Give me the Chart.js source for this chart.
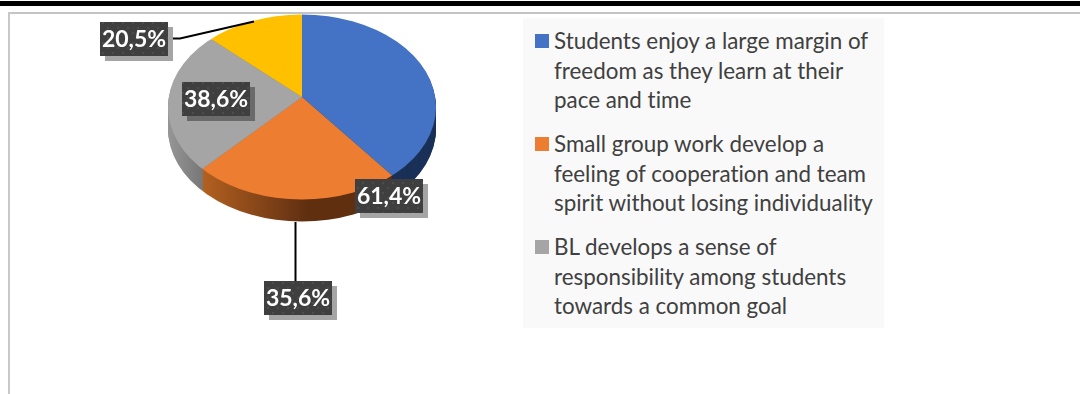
<!DOCTYPE html>
<html>
<head>
<meta charset="utf-8">
<script src="https://cdn.jsdelivr.net/npm/chart.js@4"></script>
<style>
  html, body { margin: 0; padding: 0; background: #fff; overflow: hidden; }
  #wrap { position: relative; width: 1080px; height: 394px; }
  #topBar { position: absolute; left: 0; top: 1px; width: 1080px; height: 5px; background: #000; }
  #frameTop { position: absolute; left: 8px; top: 12px; width: 1072px; height: 2px; background: #c4c4c4; }
  #frameLeft { position: absolute; left: 8px; top: 12px; width: 2px; height: 382px; background: #c8c8c8; }
  #myChart { position: absolute; left: 0; top: 0; }
  #legend {
    position: absolute; left: 523px; top: 18px; width: 361px; height: 310px;
    background: #f9f9f9; color: #404040; font: 22.4px Lato, sans-serif;
    font-variant-ligatures: none;
  }
  .item { position: absolute; left: 31px; line-height: 29.5px; white-space: nowrap; }
  .swatch { position: absolute; left: 12px; width: 14px; height: 14px; }
</style>
</head>
<body>
<div id="wrap">
  <div id="topBar"></div>
  <div id="frameTop"></div>
  <div id="frameLeft"></div>
  <canvas id="myChart" width="1080" height="394"></canvas>
  <div id="legend"></div>
</div>
<script>
// Slice order runs clockwise from 12 o'clock
const labels = ["Students", "Small group", "BL", ""];
const values = [61.4, 35.6, 38.6, 20.5];
const valueLabels = ["61,4%", "35,6%", "38,6%", "20,5%"];
const legendLines = [
  ["Students enjoy a large margin of", "freedom as they learn at their", "pace and time"],
  ["Small group work develop a", "feeling of cooperation and team", "spirit without losing individuality"],
  ["BL develops a sense of", "responsibility among students", "towards a common goal"]
];
const colors = ["#4472c4", "#ed7d31", "#a5a5a5", "#ffc000"];

// Pie geometry on the page
const cx = 302, vertexY = 97, rimY = 107, rx = 134, ry = 92.5, tilt = 0.69, depth = 22;
const pieRadius = 165;
const canvasH = 394;

// Top-left corner of each value box, same order as values
const labelBoxes = [[355, 179], [264, 281], [182, 82], [100, 22]];
const boxW = 68, boxH = 34;

function sideColor(ctx, i) {
  if (i == 0) return "#1b3158";
  let g = ctx.createLinearGradient(168, 0, 436, 0);
  if (i == 1) {
    g.addColorStop(0.13, "#b2601f");
    g.addColorStop(0.45, "#6f3814");
    g.addColorStop(0.52, "#5f2f10");
    g.addColorStop(1, "#5f3010");
  } else {
    g.addColorStop(0, "#969696");
    g.addColorStop(0.13, "#777777");
  }
  return g;
}

function ellipseClip(ctx, offset) {
  ctx.beginPath();
  ctx.ellipse(cx, rimY + offset, rx, ry, 0, 0, Math.PI * 2);
  ctx.clip();
}

function squash(ctx, chart, offset) {
  const midY = (chart.chartArea.top + chart.chartArea.bottom) / 2;
  ctx.translate(cx, vertexY + offset);
  ctx.scale(1, tilt);
  ctx.translate(-cx, -midY);
}

function dotPattern(ctx) {
  const c = document.createElement("canvas");
  c.width = 10; c.height = 10;
  const p = c.getContext("2d");
  p.fillStyle = "#3f3f3f";
  p.fillRect(0, 0, 10, 10);
  p.fillStyle = "#4c4c4c";
  p.fillRect(2, 2, 2, 2);
  p.fillRect(7, 7, 2, 2);
  return ctx.createPattern(c, "repeat");
}

// Flattens the pie, adds the side wall and clips it all to the rim ellipse
const tiltPlugin = {
  id: "tilt",
  beforeDatasetsDraw(chart) {
    const ctx = chart.ctx;
    const arcs = chart.getDatasetMeta(0).data;
    for (let d = depth; d > 0; d--) {
      ctx.save();
      ellipseClip(ctx, d);
      squash(ctx, chart, d);
      arcs.forEach((arc, i) => {
        const old = arc.options.backgroundColor;
        const oldBorder = arc.options.borderWidth;
        arc.options.backgroundColor = sideColor(ctx, i);
        arc.options.borderWidth = 0;
        arc.draw(ctx);
        arc.options.backgroundColor = old;
        arc.options.borderWidth = oldBorder;
      });
      ctx.restore();
    }
    ctx.save();
    ellipseClip(ctx, 0);
    squash(ctx, chart, 0);
  },
  afterDatasetsDraw(chart) {
    const ctx = chart.ctx;
    ctx.restore();

    // leader lines
    ctx.strokeStyle = "#000";
    ctx.lineWidth = 2;
    ctx.beginPath();
    ctx.moveTo(168, 38.5);
    ctx.lineTo(180, 38.5);
    ctx.lineTo(254, 21.5);
    ctx.moveTo(295.5, 222);
    ctx.lineTo(295.5, 281);
    ctx.stroke();

    // value boxes with their offset shadow
    const pattern = dotPattern(ctx);
    valueLabels.forEach((text, i) => {
      const x = labelBoxes[i][0], y = labelBoxes[i][1];
      ctx.fillStyle = i == 2 ? "#6a6a6a" : "#a5a5a5";
      ctx.fillRect(x + 5, y + 5, boxW, boxH);
      ctx.fillStyle = pattern;
      ctx.fillRect(x, y, boxW, boxH);
      ctx.fillStyle = "#fff";
      ctx.font = "bold 23px Lato, sans-serif";
      ctx.textAlign = "center";
      ctx.textBaseline = "middle";
      ctx.fillText(text, x + boxW / 2, y + boxH / 2 + 1);
    });
  }
};

const chartCtx = document.getElementById("myChart").getContext("2d");
new Chart(chartCtx, {
  type: "pie",
  data: {
    labels: labels,
    datasets: [{ data: values, backgroundColor: colors, borderWidth: 0 }]
  },
  options: {
    responsive: false,
    animation: false,
    layout: {
      padding: {
        left: cx - pieRadius,
        right: 1080 - cx - pieRadius,
        top: canvasH / 2 - pieRadius,
        bottom: canvasH / 2 - pieRadius
      }
    },
    plugins: { legend: { display: false }, tooltip: { enabled: false } }
  },
  plugins: [tiltPlugin]
});

// Legend entries are plain text blocks beside the pie
const legendBox = document.getElementById("legend");
legendLines.forEach((lines, i) => {
  const top = 8 + i * 103;
  const item = document.createElement("div");
  item.className = "item";
  item.style.top = top + "px";
  item.innerHTML = lines.join("<br>");
  legendBox.appendChild(item);
  const swatch = document.createElement("div");
  swatch.className = "swatch";
  swatch.style.top = (top + 8) + "px";
  swatch.style.background = colors[i];
  legendBox.appendChild(swatch);
});
</script>
</body>
</html>
